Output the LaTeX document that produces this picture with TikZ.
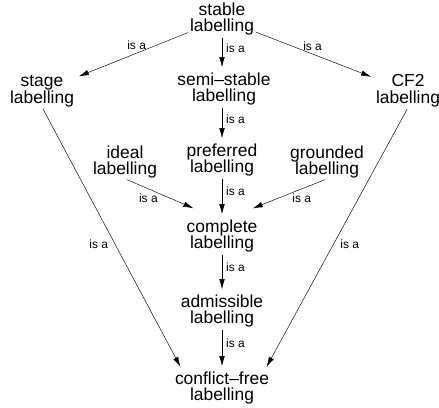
\documentclass[tikz,border=0pt]{standalone}
\usepackage{fontspec}
\setmainfont{Liberation Sans}
\usetikzlibrary{positioning,arrows.meta}
\tikzset{flecha/.style={line width=0.45bp, -{Latex[length=10bp,width=5.5bp]}, shorten <=2bp, shorten >=5bp}}
\tikzset{concepto/.style={align=center, inner sep=0bp, font=\fontsize{17.5}{17}\selectfont}}
\tikzset{esun/.style={inner sep=1bp, font=\fontsize{12}{12}\selectfont}}

\begin{document}
\begin{tikzpicture}[x=1bp,y=-1bp]
    \useasboundingbox (0,0) rectangle (439,407);
    \node[concepto] (stable) at (222,19) {stable\\labelling};
    \node[concepto] (semistable) at (224,89) {semi--stable\\labelling};
    \node[concepto] (stage) at (42,91) {stage\\labelling};
    \node[concepto] (cftwo) at (408,91) {CF2\\labelling};
    \node[concepto] (preferred) at (222,160) {preferred\\labelling};
    \node[concepto] (ideal) at (125,162) {ideal\\labelling};
    \node[concepto] (grounded) at (327,162) {grounded\\labelling};
    \node[concepto] (complete) at (222,236) {complete\\labelling};
    \node[concepto] (admissible) at (222,311) {admissible\\labelling};
    \node[concepto] (conflictfree) at (222,388) {conflict--free\\labelling};

    \draw[flecha] (stable) -- node[esun, pos=0.46, above=2bp] {is a} (stage);
    \draw[flecha] (stable) -- node[esun, pos=0.48, above=2bp] {is a} (cftwo);
    \draw[flecha] (stable.south -| complete) -- node[esun, pos=0.35, right=3bp] {is a} (semistable.north -| complete);
    \draw[flecha] (semistable.south -| complete) -- node[esun, pos=0.35, right=3bp] {is a} (preferred);
    \draw[flecha] (preferred) -- node[esun, pos=0.35, right=3bp] {is a} (complete);
    \draw[flecha] (complete) -- node[esun, pos=0.35, right=3bp] {is a} (admissible);
    \draw[flecha] (admissible) -- node[esun, pos=0.35, right=3bp] {is a} (conflictfree);
    \draw[flecha] (ideal.south) -- node[esun, pos=0.32, below=4bp] {is a} ([xshift=-24bp,yshift=9bp]complete.north);
    \draw[flecha] (grounded.south) -- node[esun, pos=0.32, below=4bp] {is a} ([xshift=26bp,yshift=9bp]complete.north);
    \draw[flecha] (stage.south) -- node[esun, pos=0.52, left=6bp] {is a} ([xshift=8bp]conflictfree.north west);
    \draw[flecha] (cftwo.south) -- node[esun, pos=0.52, right=6bp] {is a} ([xshift=-5bp]conflictfree.north east);
\end{tikzpicture}
\end{document}
